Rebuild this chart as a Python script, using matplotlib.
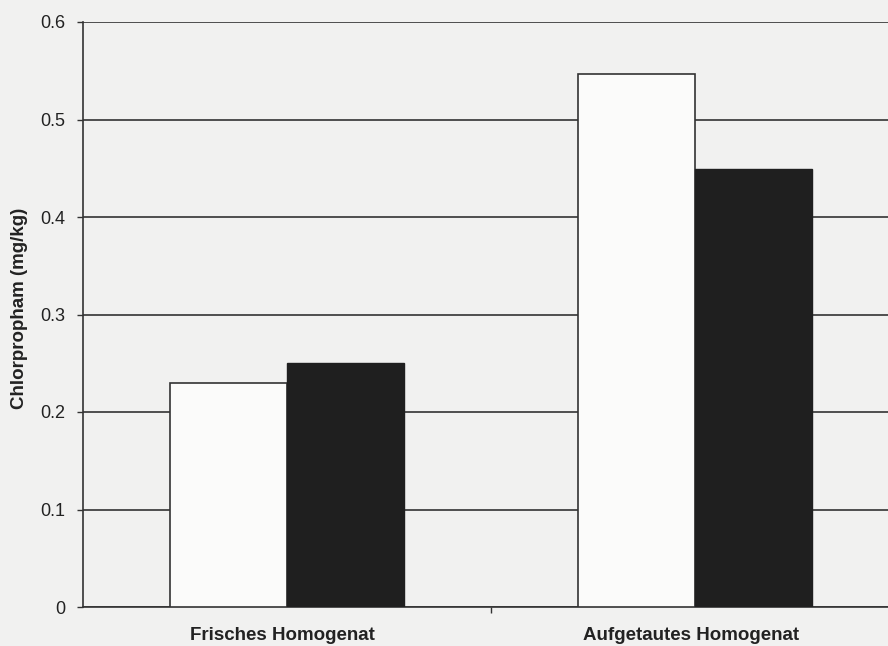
import numpy as np
import matplotlib.pyplot as plt

plt.rcParams["font.family"] = ["Liberation Sans", "DejaVu Sans"]

# ------------------------------------------------------
# data
# ------------------------------------------------------
categories = ["Frisches Homogenat", "Aufgetautes Homogenat"]
series_a = [0.23, 0.547]   # white bars
series_b = [0.25, 0.449]   # black bars
y_ticks = [0, 0.1, 0.2, 0.3, 0.4, 0.5, 0.6]
y_labels = ["0", "0.1", "0.2", "0.3", "0.4", "0.5", "0.6"]

BG = "#f1f1f0"

fig = plt.figure(figsize=(8.88, 6.46), dpi=100, facecolor=BG)
ax = fig.add_axes([83 / 888, 39 / 646, 816 / 888, 585 / 646])
ax.set_facecolor(BG)

x = np.arange(len(categories))
w = 0.286
ax.bar(x - w / 2, series_a, width=w, color="#fbfbfa", edgecolor="#333333",
       linewidth=1.2, zorder=3)
ax.bar(x + w / 2, series_b, width=w, color="#1f1f1f", edgecolor="#1f1f1f",
       linewidth=1.0, zorder=3)

ax.set_xlim(-0.5, 1.5)
ax.set_ylim(0, 0.6)
ax.set_yticks(y_ticks)
ax.set_yticklabels(y_labels, fontsize=13, color="#222222")
ax.yaxis.grid(True, color="#333333", linewidth=1.2, zorder=1)
ax.set_axisbelow(True)

# category boundary tick only
ax.set_xticks([0.5])
ax.set_xticklabels([""])
ax.tick_params(axis="x", length=4, width=1.0, color="#333333")
ax.tick_params(axis="y", length=4.5, width=1.0, color="#333333", pad=8)

for i, name in enumerate(categories):
    ax.text(i - 0.01, -0.0297, name, ha="center", va="center", fontsize=13.5,
            fontweight="bold", color="#222222")

ax.set_ylabel("Chlorpropham (mg/kg)", fontsize=13.5, fontweight="bold",
              color="#222222", va="center")
ax.yaxis.set_label_coords(-0.078, 0.51)

for side in ["top", "right"]:
    ax.spines[side].set_visible(False)
for side in ["left", "bottom"]:
    ax.spines[side].set_color("#333333")
    ax.spines[side].set_linewidth(1.2)

fig.savefig("out.png", dpi=100, facecolor=BG)
